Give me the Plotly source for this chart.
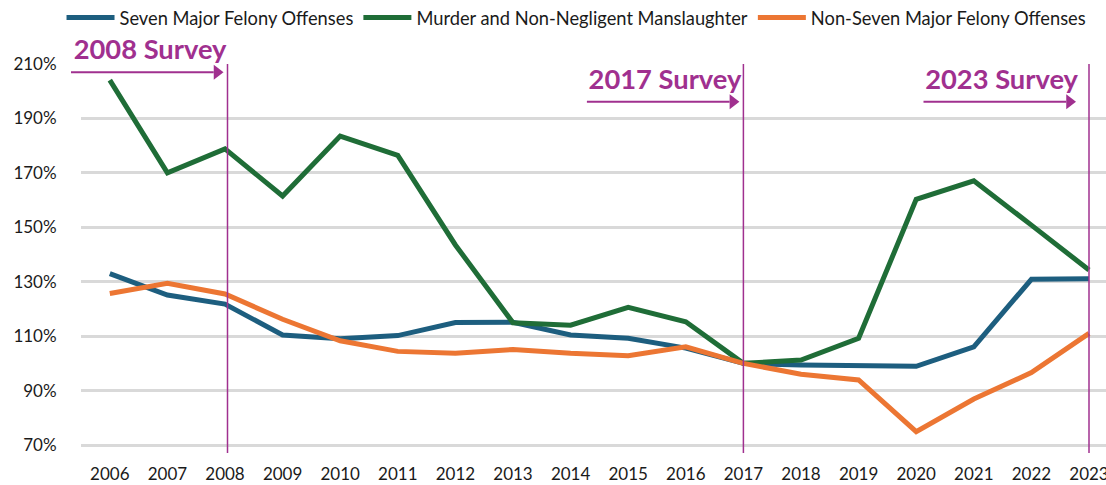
import plotly.graph_objects as go

years = list(range(2006, 2024))
seven_major = [133.0, 125.1, 121.8, 110.4, 109.0, 110.2, 115.0, 115.1, 110.4, 109.2, 105.6, 100.0,
               99.4, 99.0, 98.9, 106.1, 130.9, 131.1]
murder = [204.1, 170.0, 178.8, 161.5, 183.5, 176.4, 143.5, 114.9, 114.0, 120.6, 115.3, 100.0,
          101.2, 109.2, 160.3, 167.1, 150.8, 134.3]
non_seven = [125.7, 129.4, 125.5, 116.2, 108.3, 104.4, 103.7, 105.1, 103.7, 102.8, 106.1, 100.0,
             96.0, 93.9, 74.9, 86.9, 96.6, 111.0]
series_names = ["Seven Major Felony Offenses", "Murder and Non-Negligent Manslaughter",
                "Non-Seven Major Felony Offenses"]
survey_years = [2008, 2017, 2023]
survey_labels = ["2008 Survey", "2017 Survey", "2023 Survey"]
label_y = [209.2, 198.45, 198.45]     # label anchor heights (value-axis units)
arrow_y = [206.95, 196.15, 196.15]    # arrow heights (value-axis units)
y_ticks = [70, 90, 110, 130, 150, 170, 190, 210]
y_tick_labels = [f"{v}%" for v in y_ticks]

colors = ["#1D5E7F", "#1F6D37", "#EC7633"]
purple = "#A0308F"
FONT = "Lato"

W, H = 1106, 485
ML, MR, MT, MB = 81, 0, 64, 32
X_RANGE = [2005.5, 2005.5 + (W - ML - MR) / 57.6]
Y_RANGE = [67.06, 210]
PX = (W - ML - MR) / (X_RANGE[1] - X_RANGE[0])   # pixels per year

# per-label horizontal nudges (px) relative to the survey line
line_shift = [2.5, 0, 0]
tip_shift = [-3, -3, -12]
text_shift = [-1, -2, -11]
ARROW_LEN = 153
HEAD = 13

fig = go.Figure()
for name, vals, col in zip(series_names, [seven_major, murder, non_seven], colors):
    fig.add_trace(go.Scatter(x=years, y=vals, mode="lines", name=name,
                             line=dict(color=col, width=5), cliponaxis=False))

# vertical survey lines
vx, vy = [], []
for sy, ls in zip(survey_years, line_shift):
    vx += [sy + ls / PX, sy + ls / PX, None]
    vy += [Y_RANGE[0], Y_RANGE[1], None]
fig.add_trace(go.Scatter(x=vx, y=vy, mode="lines", showlegend=False, hoverinfo="skip",
                         line=dict(color=purple, width=1.5), cliponaxis=False))

# arrows: shaft (horizontal line marker) + triangular head
for sy, ay, ts, ls in zip(survey_years, arrow_y, tip_shift, line_shift):
    tip_px = ts + ls
    head_back = tip_px - 0.866 * HEAD
    shaft_start = tip_px - ARROW_LEN
    shaft_len = head_back - shaft_start + 1
    shaft_c = (head_back + shaft_start) / 2
    head_c = tip_px - 0.577 * HEAD
    fig.add_trace(go.Scatter(x=[sy + shaft_c / PX], y=[ay], mode="markers", showlegend=False,
                             hoverinfo="skip", cliponaxis=False,
                             marker=dict(symbol="line-ew", size=shaft_len / 1.4, color=purple,
                                         line=dict(width=2, color=purple))))
    fig.add_trace(go.Scatter(x=[sy + head_c / PX], y=[ay], mode="markers", showlegend=False,
                             hoverinfo="skip", cliponaxis=False,
                             marker=dict(symbol="triangle-right", size=HEAD, color=purple,
                                         line=dict(width=0))))

# survey labels
for sy, lab, ly, tsh, ls in zip(survey_years, survey_labels, label_y, text_shift, line_shift):
    fig.add_trace(go.Scatter(x=[sy + (tsh + ls) / PX], y=[ly], mode="text",
                             text=["<b>" + lab + "</b>"],
                             textposition="top left", showlegend=False, hoverinfo="skip",
                             cliponaxis=False,
                             textfont=dict(family=FONT, size=27.3, color=purple)))

fig.update_layout(
    width=W, height=H,
    margin=dict(l=ML, r=MR, t=MT, b=MB, autoexpand=False),
    paper_bgcolor="white", plot_bgcolor="white",
    font=dict(family=FONT, size=17, color="#1a1a1a"),
    showlegend=True,
    legend=dict(orientation="h", x=-0.019, xanchor="left", y=1.119, yanchor="middle",
                itemwidth=48,
                font=dict(family=FONT, size=18.3, color="#1a1a1a"), bgcolor="rgba(0,0,0,0)"),
)
fig.update_xaxes(range=X_RANGE, tickmode="array", tickvals=years, ticktext=[str(y) for y in years],
                 showgrid=False, showline=False, zeroline=False, ticks="outside", ticklen=6,
                 tickcolor="rgba(0,0,0,0)", ticklabeloverflow="allow",
                 tickfont=dict(family=FONT, size=17, color="#1a1a1a"))
fig.update_yaxes(range=Y_RANGE, tickmode="array", tickvals=y_ticks, ticktext=y_tick_labels,
                 showgrid=True, gridcolor="#D9D9D9", gridwidth=2.5, zeroline=False,
                 showline=False, ticks="outside", ticklen=20, tickcolor="rgba(0,0,0,0)",
                 tickfont=dict(family=FONT, size=17, color="#1a1a1a"))

fig.write_html("out.html", config={"displayModeBar": False},
               post_script="document.body.style.margin='0';document.body.style.overflow='hidden';")
